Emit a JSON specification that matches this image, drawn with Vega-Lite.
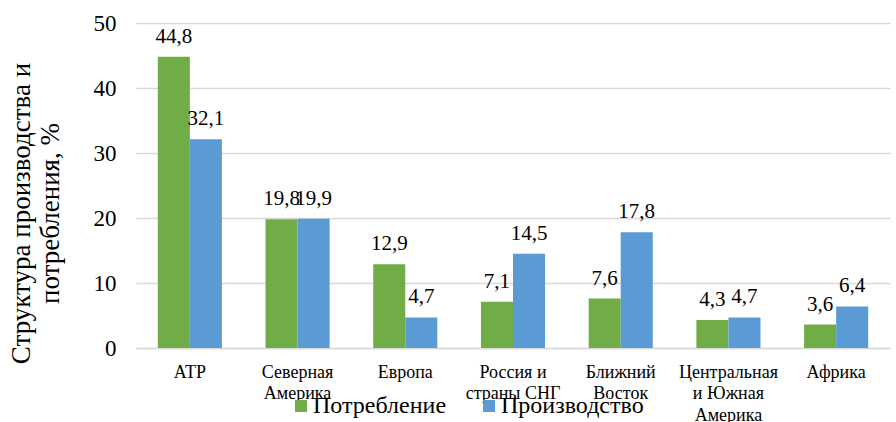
{
  "$schema": "https://vega.github.io/schema/vega-lite/v6.json",
  "width": 754,
  "height": 325,
  "autosize": "none",
  "padding": {"left": 136, "top": 23, "right": 6, "bottom": 74},
  "background": "white",
  "data": {
    "values": [
      {"region": "АТР", "series": "Потребление", "value": 44.8},
      {"region": "АТР", "series": "Производство", "value": 32.1},
      {"region": "Северная|Америка", "series": "Потребление", "value": 19.8},
      {"region": "Северная|Америка", "series": "Производство", "value": 19.9},
      {"region": "Европа", "series": "Потребление", "value": 12.9},
      {"region": "Европа", "series": "Производство", "value": 4.7},
      {"region": "Россия и|страны СНГ", "series": "Потребление", "value": 7.1},
      {"region": "Россия и|страны СНГ", "series": "Производство", "value": 14.5},
      {"region": "Ближний|Восток", "series": "Потребление", "value": 7.6},
      {"region": "Ближний|Восток", "series": "Производство", "value": 17.8},
      {"region": "Центральная|и Южная|Америка", "series": "Потребление", "value": 4.3},
      {"region": "Центральная|и Южная|Америка", "series": "Производство", "value": 4.7},
      {"region": "Африка", "series": "Потребление", "value": 3.6},
      {"region": "Африка", "series": "Производство", "value": 6.4}
    ]
  },
  "transform": [
    {"calculate": "replace(format(datum.value, '.1f'), '.', ',')", "as": "label"}
  ],
  "encoding": {
    "x": {
      "field": "region",
      "type": "nominal",
      "sort": null,
      "scale": {"paddingInner": 0.405, "paddingOuter": 0.2025},
      "axis": {
        "title": null,
        "labelAngle": 0,
        "labelExpr": "split(datum.label, '|')",
        "labelFont": "serif",
        "labelFontSize": 18,
        "labelColor": "#000000",
        "labelLineHeight": 21.5,
        "labelPadding": 15,
        "labelBaseline": "top",
        "ticks": false,
        "domainColor": "#d9d9d9",
        "domainWidth": 1.5
      }
    },
    "xOffset": {"field": "series", "type": "nominal", "sort": ["Потребление", "Производство"]},
    "y": {
      "field": "value",
      "type": "quantitative",
      "scale": {"domain": [0, 50]},
      "axis": {
        "values": [0, 10, 20, 30, 40, 50],
        "title": ["Структура производства и", "потребления, %"],
        "titleFont": "serif",
        "titleFontSize": 27,
        "titleFontWeight": "normal",
        "titleColor": "#000000",
        "titleLineHeight": 29,
        "titlePadding": 29,
        "titleY": 190,
        "labelFont": "serif",
        "labelFontSize": 23,
        "labelColor": "#000000",
        "labelPadding": 20,
        "domain": false,
        "ticks": false,
        "gridColor": "#d9d9d9",
        "gridWidth": 1.5
      }
    }
  },
  "layer": [
    {
      "mark": {"type": "bar"},
      "encoding": {
        "color": {
          "field": "series",
          "type": "nominal",
          "sort": ["Потребление", "Производство"],
          "scale": {"domain": ["Потребление", "Производство"], "range": ["#70ad47", "#5b9bd5"]},
          "legend": {
            "title": null,
            "orient": "none",
            "direction": "horizontal",
            "legendX": 153,
            "legendY": 371,
            "symbolType": "square",
            "symbolSize": 144,
            "symbolStrokeWidth": 0,
            "labelFont": "serif",
            "labelFontSize": 24,
            "labelColor": "#000000",
            "labelOffset": 0,
            "columnPadding": 30
          }
        }
      }
    },
    {
      "mark": {"type": "text", "baseline": "alphabetic", "dy": -14, "font": "serif", "fontSize": 21, "color": "#000000"},
      "encoding": {
        "text": {"field": "label"}
      }
    }
  ],
  "config": {"view": {"stroke": null}, "font": "serif"}
}
